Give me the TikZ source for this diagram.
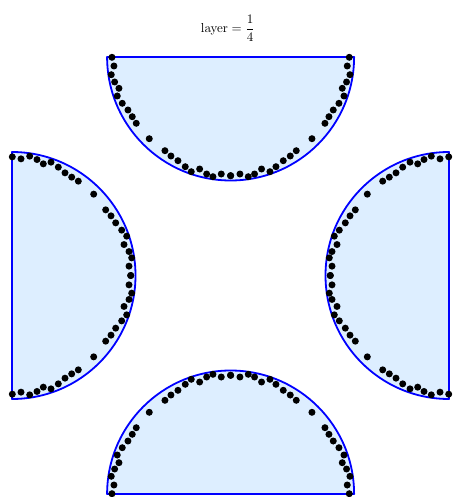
\documentclass[tikz,border=0pt]{standalone}
\usepackage{amsmath}
\definecolor{shapefill}{RGB}{221,238,255}
\definecolor{shapeline}{RGB}{0,0,255}
\begin{document}
\begin{tikzpicture}[x=1pt,y=-1pt,
  halfdisc/.style={draw=shapeline, fill=shapefill, line width=1.8pt, line join=round},
  dotmark/.style={fill=black}]
\useasboundingbox (0,0) rectangle (452,497);
% title
\node[scale=1.3, inner sep=0pt] (title) at (228,28) {$\mathrm{layer} = \dfrac{1}{4}$};
% four half discs
\draw[halfdisc] (107.1,57) -- (354.1,57) arc[start angle=0,end angle=180,radius=123.5] -- cycle;
\draw[halfdisc] (107.1,494) -- (354.1,494) arc[start angle=0,end angle=-180,radius=123.5] -- cycle;
\draw[halfdisc] (12,399) -- (12,152) arc[start angle=-90,end angle=90,radius=123.5] -- cycle;
\draw[halfdisc] (449,152) -- (449,399) arc[start angle=90,end angle=270,radius=123.5] -- cycle;
% dots
\foreach \u/\v in {118.65/0.3, 116.65/9, 119.35/17.7, 115.95/25, 111.65/31.3, 113.35/39,
  108.35/46.3, 102.65/53, 98.35/59.7, 94.35/66.3, 81.35/81.7, 65.65/93.7, 59.65/99,
  52.65/103.7, 45.35/109.7, 39.35/114.7, 30.95/112, 23.95/117, 17.65/119.7, 9.35/117, 0/118.7}{
  \foreach \s in {1,-1}{
    \fill[dotmark] ({230.6+\s*\u},{57+\v}) circle (3.5);
    \fill[dotmark] ({230.6+\s*\u},{494-\v}) circle (3.5);
    \fill[dotmark] ({12+\v},{275.5+\s*\u}) circle (3.5);
    \fill[dotmark] ({449-\v},{275.5+\s*\u}) circle (3.5);
  }
}
\end{tikzpicture}
\end{document}
